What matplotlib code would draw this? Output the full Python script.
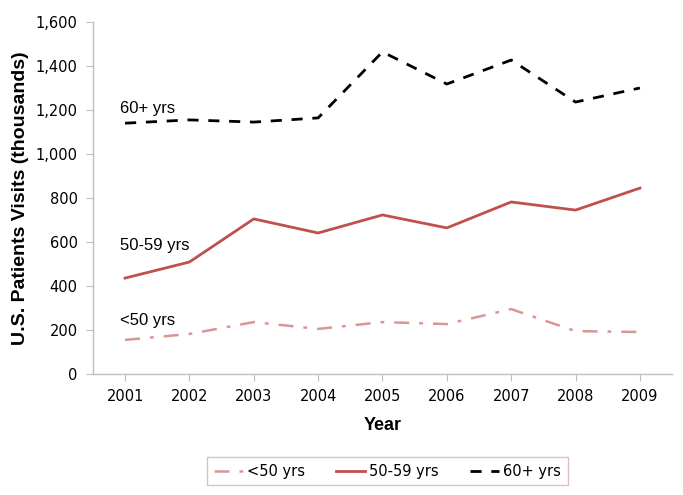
import numpy as np
import matplotlib
matplotlib.use("Agg")
import matplotlib.pyplot as plt

years = ["2001", "2002", "2003", "2004", "2005", "2006", "2007", "2008", "2009"]
under50 = [155, 182, 236, 205, 236, 227, 295, 195, 191]
age50_59 = [436, 509, 705, 641, 723, 664, 782, 745, 845]
age60plus = [1140, 1155, 1145, 1164, 1464, 1318, 1427, 1236, 1300]

x = np.arange(1, len(years) + 1)

fig = plt.figure(figsize=(6.83, 4.95), dpi=100)
ax = fig.add_axes([0.136, 0.2444, 0.848, 0.7112])

l1, = ax.plot(x, under50, color="#D99694", lw=1.8, dashes=(6, 4, 1.5, 4), label="<50 yrs")
l2, = ax.plot(x, age50_59, color="#C0504D", lw=2, label="50-59 yrs")
l3, = ax.plot(x, age60plus, color="black", lw=2, dashes=(4, 3.5), label="60+ yrs")

ax.set_xlim(0.5, len(years) + 0.5)
ax.set_ylim(0, 1600)
ax.set_xticks(x)
ax.set_xticklabels(years)
ax.set_yticks(np.arange(0, 1601, 200))
ax.set_yticklabels([f"{v:,}" for v in range(0, 1601, 200)])

for s in ["top", "right"]:
    ax.spines[s].set_visible(False)
for s in ["left", "bottom"]:
    ax.spines[s].set_color("#BFBFBF")
    ax.spines[s].set_linewidth(1)
ax.tick_params(axis="both", colors="#BFBFBF", labelcolor="black", labelsize=10.5,
               length=5, direction="out", pad=6)

ax.set_ylabel("U.S. Patients Visits (thousands)", fontsize=14, fontweight="bold",
              family="Liberation Sans", labelpad=5)
ax.set_xlabel("Year", fontsize=13, fontweight="bold", family="Liberation Sans", labelpad=9)

lab_font = dict(fontsize=12, family="Liberation Sans", va="center", ha="left")
ax.text(0.92, 1209, "60+ yrs", **lab_font)
ax.text(0.92, 586, "50-59 yrs", **lab_font)
ax.text(0.92, 245, "<50 yrs", **lab_font)

leg = fig.legend(handles=[l1, l2, l3], loc="center", bbox_to_anchor=(0.567, 0.048),
                 ncol=3, fontsize=10.5, frameon=True, fancybox=False,
                 handlelength=2.0, handletextpad=0.3, columnspacing=2.1,
                 borderpad=0.45, borderaxespad=0)
leg.get_frame().set_edgecolor("#D9B0B0")
leg.get_frame().set_linewidth(1)

fig.savefig("out.png", dpi=100)
